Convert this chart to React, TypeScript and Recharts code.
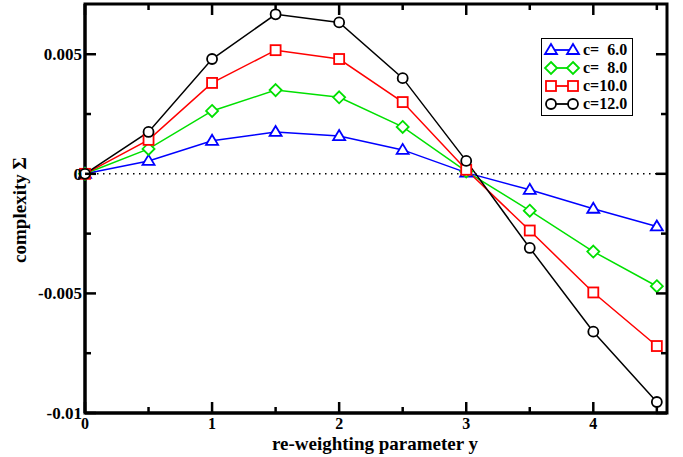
import { LineChart, Line, XAxis, YAxis, ReferenceLine, ReferenceArea } from "recharts";

const reweighting = [0, 0.5, 1, 1.5, 2, 2.5, 3, 3.5, 4, 4.5];
const c6 = [0, 0.00054, 0.00138, 0.00175, 0.00158, 0.001, 0.00005, -0.00067, -0.00146, -0.0022];
const c8 = [0, 0.00104, 0.00263, 0.0035, 0.0032, 0.00196, 0.0001, -0.00154, -0.00325, -0.0047];
const c10 = [0, 0.00142, 0.0038, 0.00517, 0.0048, 0.003, 0.00017, -0.00237, -0.00496, -0.0072];
const c12 = [0, 0.00175, 0.0048, 0.00667, 0.00633, 0.004, 0.00054, -0.0031, -0.0066, -0.00954];

const xTicks = [0, 0.5, 1, 1.5, 2, 2.5, 3, 3.5, 4, 4.5];
const yTicks = [-0.01, -0.0075, -0.005, -0.0025, 0, 0.0025, 0.005];
const xDomain = [0, 4.58];
const yDomain = [-0.01, 0.0071];

const data = reweighting.map((y, i) => ({ y, c6: c6[i], c8: c8[i], c10: c10[i], c12: c12[i] }));

const series = [
  { key: "c6", label: "c=  6.0", color: "#0000ff", shape: "triangle" },
  { key: "c8", label: "c=  8.0", color: "#00e000", shape: "diamond" },
  { key: "c10", label: "c=10.0", color: "#ff0000", shape: "square" },
  { key: "c12", label: "c=12.0", color: "#000000", shape: "circle" },
];

const font = "'Liberation Serif', 'DejaVu Serif', serif";

// plot frame (top edge, right edge) for the mirrored tick marks
const PLOT_TOP = 4;
const PLOT_RIGHT = 667;

function Marker({ cx, cy, shape, color }: any) {
  const r = 5;
  const common = { fill: "#fff", stroke: color, strokeWidth: 1.8 };
  if (shape === "triangle")
    return <polygon points={`${cx},${cy - r - 1} ${cx - r - 1},${cy + r - 1} ${cx + r + 1},${cy + r - 1}`} {...common} />;
  if (shape === "diamond")
    return <polygon points={`${cx},${cy - r - 1} ${cx + r + 1},${cy} ${cx},${cy + r + 1} ${cx - r - 1},${cy}`} {...common} />;
  if (shape === "square") return <rect x={cx - r} y={cy - r} width={2 * r} height={2 * r} {...common} />;
  return <circle cx={cx} cy={cy} r={r} {...common} />;
}

const isMajorX = (v: number) => Math.abs(v - Math.round(v)) < 1e-9;
const isMajorY = (v: number) => Math.abs(v / 0.005 - Math.round(v / 0.005)) < 1e-9;

function BottomTick({ x, y, payload }: any) {
  const major = isMajorX(payload.value);
  const len = major ? 11 : 6;
  return (
    <g>
      <line x1={x} y1={y} x2={x} y2={y - len} stroke="#000" strokeWidth={2.5} />
      <line x1={x} y1={PLOT_TOP} x2={x} y2={PLOT_TOP + len} stroke="#000" strokeWidth={2.5} />
      {major && (
        <text x={x} y={y + 16} textAnchor="middle" fontFamily={font} fontWeight="bold" fontSize={16} fill="#000">
          {payload.value}
        </text>
      )}
    </g>
  );
}

function LeftTick({ x, y, payload }: any) {
  const major = isMajorY(payload.value);
  const len = major ? 11 : 6;
  return (
    <g>
      <line x1={x} y1={y} x2={x + len} y2={y} stroke="#000" strokeWidth={2.5} />
      <line x1={PLOT_RIGHT} y1={y} x2={PLOT_RIGHT - len} y2={y} stroke="#000" strokeWidth={2.5} />
      {major && (
        <text x={x - 3} y={y + 6} textAnchor="end" fontFamily={font} fontWeight="bold" fontSize={17} fill="#000">
          {String(payload.value)}
        </text>
      )}
    </g>
  );
}

function ChartLegend() {
  return (
    <div
      style={{
        position: "absolute",
        left: 541,
        top: 38,
        border: "1.5px solid #000",
        background: "#fff",
        width: 90,
        padding: "2px 0 2px 0",
        fontFamily: font,
        fontWeight: "bold",
        fontSize: 16,
        lineHeight: "18px",
      }}
    >
      {series.map((s) => (
        <div key={s.key} style={{ display: "flex", alignItems: "center", whiteSpace: "pre" }}>
          <svg width={40} height={16}>
            <line x1={9} y1={8} x2={31} y2={8} stroke={s.color} strokeWidth={1.8} />
            <Marker cx={9} cy={8} shape={s.shape} color={s.color} />
            <Marker cx={31} cy={8} shape={s.shape} color={s.color} />
          </svg>
          <span style={{ marginLeft: 1 }}>{s.label}</span>
        </div>
      ))}
    </div>
  );
}

export default function App() {
  return (
    <div style={{ position: "absolute", left: 0, top: 0, width: 683, height: 457, background: "#fff" }}>
      <LineChart width={683} height={457} data={data} margin={{ top: PLOT_TOP, right: 683 - PLOT_RIGHT, bottom: 0, left: 0 }}>
        <XAxis
          dataKey="y"
          type="number"
          domain={xDomain}
          ticks={xTicks}
          interval={0}
          tickSize={0}
          tickMargin={0}
          tick={<BottomTick />}
          tickLine={false}
          axisLine={{ stroke: "#000", strokeWidth: 3 }}
          height={44}
          label={() => (
            <text x={375} y={450} textAnchor="middle" fontFamily={font} fontWeight="bold" fontSize={19} fill="#000">
              re-weighting parameter y
            </text>
          )}
        />
        <YAxis
          type="number"
          domain={yDomain}
          ticks={yTicks}
          interval={0}
          tickSize={0}
          tickMargin={0}
          tick={<LeftTick />}
          tickLine={false}
          axisLine={{ stroke: "#000", strokeWidth: 3 }}
          width={85}
          allowDataOverflow
          label={() => (
            <text
              x={26}
              y={210}
              transform="rotate(-90 26 210)"
              textAnchor="middle"
              fontFamily={font}
              fontWeight="bold"
              fontSize={19}
              fill="#000"
            >
              complexity Σ
            </text>
          )}
        />
        <ReferenceLine y={0} stroke="#000" strokeWidth={1.5} strokeDasharray="1.5 4.5" />
        <ReferenceArea
          x1={xDomain[0]}
          x2={xDomain[1]}
          y1={yDomain[0]}
          y2={yDomain[1]}
          fill="none"
          fillOpacity={0}
          stroke="#000"
          strokeWidth={3}
          strokeOpacity={1}
          ifOverflow="visible"
        />
        {series.map((s) => (
          <Line
            key={s.key}
            dataKey={s.key}
            stroke={s.color}
            strokeWidth={1.5}
            isAnimationActive={false}
            dot={(p: any) => <Marker key={`${s.key}-${p.index}`} cx={p.cx} cy={p.cy} shape={s.shape} color={s.color} />}
          />
        ))}
      </LineChart>
      <ChartLegend />
    </div>
  );
}
